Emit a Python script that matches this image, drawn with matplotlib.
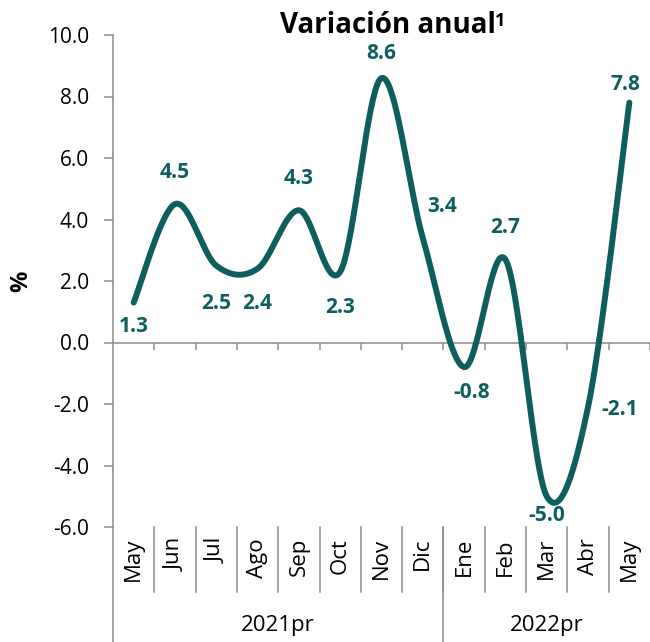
import numpy as np
import matplotlib.pyplot as plt
from matplotlib.lines import Line2D
import matplotlib.transforms as mtransforms

plt.rcParams['font.family'] = ['Open Sans', 'DejaVu Sans']

# datos
meses = ['May', 'Jun', 'Jul', 'Ago', 'Sep', 'Oct', 'Nov', 'Dic',
         'Ene', 'Feb', 'Mar', 'Abr', 'May']
anios = ['2021pr', '2022pr']
meses_por_anio = [8, 5]
valores = [1.3, 4.5, 2.5, 2.4, 4.3, 2.3, 8.6, 3.4, -0.8, 2.7, -5.0, -2.1, 7.8]

# desplazamiento de las etiquetas (pixeles)
desp = [(0, -24), (0, 32), (0, -38), (0, -35), (0, 32), (0, -36), (0, 25),
        (19, 31), (8, -25), (0, 32), (0, -19), (32, -2), (-4, 18)]

COLOR = '#0F5E5E'
GRIS = '#8C8C8C'


def suavizar(x, y, n=40):
    # curva suavizada tipo Excel (Bezier con puntos de control Catmull-Rom)
    x = np.asarray(x, float)
    y = np.asarray(y, float)
    P = np.column_stack([x, y])
    P = np.vstack([P[0], P, P[-1]])
    out = []
    t = np.linspace(0, 1, n)[:, None]
    for i in range(1, len(P) - 2):
        p0, p3 = P[i], P[i + 1]
        c1 = p0 + (P[i + 1] - P[i - 1]) / 6
        c2 = p3 - (P[i + 2] - P[i]) / 6
        seg = ((1 - t) ** 3) * p0 + 3 * ((1 - t) ** 2) * t * c1 + 3 * (1 - t) * t ** 2 * c2 + t ** 3 * p3
        out.append(seg)
    out = np.vstack(out)
    return out[:, 0], out[:, 1]


fig = plt.figure(figsize=(6.5, 6.42), dpi=100)
ax = fig.add_axes([113 / 650, 115 / 642, 537 / 650, 492 / 642])

x = np.arange(len(valores))
xs, ys = suavizar(x, valores)
ax.plot(xs, ys, color=COLOR, lw=4.3, solid_capstyle='round', zorder=3)

for xi, v, (dx, dy) in zip(x, valores, desp):
    ax.annotate(f'{v:.1f}', (xi, v), xytext=(dx, dy), textcoords='offset pixels',
                ha='center', va='center', fontsize=15, fontweight='bold', color=COLOR)

ax.set_xlim(-0.5, len(valores) - 0.5)
ax.set_ylim(-6, 10)
ax.set_yticks(np.arange(-6, 10.1, 2))
ax.set_yticklabels([f'{t:.1f}' for t in np.arange(-6, 10.1, 2)])
ax.tick_params(axis='y', direction='out', length=6.5, width=1.1, color=GRIS,
               labelsize=15, pad=11)

ax.spines['top'].set_visible(False)
ax.spines['right'].set_visible(False)
ax.spines['left'].set_color(GRIS)
ax.spines['left'].set_linewidth(1.1)
ax.spines['bottom'].set_position(('data', 0))
ax.spines['bottom'].set_color(GRIS)
ax.spines['bottom'].set_linewidth(1.1)
ax.set_xticks(np.arange(0.5, len(valores), 1))
ax.set_xticklabels([])
ax.tick_params(axis='x', direction='out', length=5, width=1.1, color=GRIS)

# etiquetas de categorias
trans = mtransforms.blended_transform_factory(ax.transData, ax.transAxes)
y_lab = -11 / 492
for xi, m in zip(x, meses):
    ax.text(xi, y_lab, m, rotation=90, ha='center', va='top', fontsize=16,
            transform=trans, clip_on=False)

y_sep = -65 / 492
y_fin = -115 / 492
for b in np.arange(0.5, len(valores) - 1, 1):
    ax.add_line(Line2D([b, b], [0, y_sep], transform=trans, color=GRIS,
                       lw=1.1, clip_on=False))

inicio = -0.5
for anio, n in zip(anios, meses_por_anio):
    ax.add_line(Line2D([inicio, inicio], [0, y_fin], transform=trans, color=GRIS,
                       lw=1.1, clip_on=False))
    ax.text(inicio + n / 2, -98 / 492, anio, ha='center', va='center', fontsize=16,
            transform=trans, clip_on=False)
    inicio += n

fig.text(21 / 650, 0.5 * (607 + 115) / 642, '%', rotation=90, ha='center', va='center',
         fontsize=17, fontweight='bold')
titulo = fig.text(388 / 650, 1 - 33 / 642, 'Variación anual', ha='center', va='baseline',
                  fontsize=20, fontweight='bold')
fig.canvas.draw()
bb = titulo.get_window_extent()
fig.text((bb.x1 - 1) / 650, 1 - 12 / 642, '1', ha='left', va='top',
         fontsize=13, fontweight='bold')

fig.savefig('out.png', dpi=100)
